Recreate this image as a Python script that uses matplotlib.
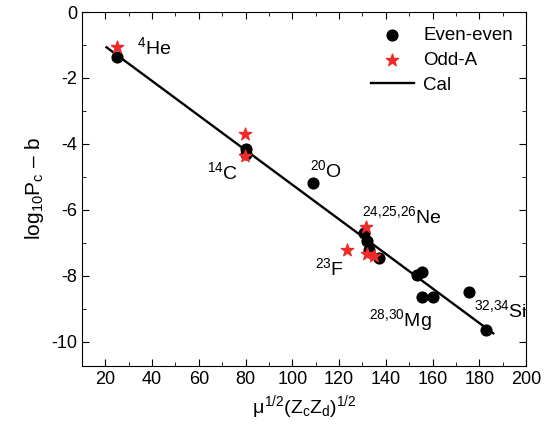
import matplotlib.pyplot as plt
from matplotlib.ticker import MultipleLocator

plt.rcParams['font.family'] = ['Liberation Sans', 'DejaVu Sans']
plt.rcParams['mathtext.fontset'] = 'custom'
plt.rcParams['mathtext.rm'] = 'Liberation Sans'
plt.rcParams['mathtext.it'] = 'Liberation Sans'
plt.rcParams['axes.unicode_minus'] = False

# even-even nuclei
ee_x = [24.8, 80.0, 80.2, 108.8, 130.7, 132.0, 132.8, 137.1, 153.4, 155.7, 155.5, 160.2, 175.6, 183.0]
ee_y = [-1.37, -4.16, -4.30, -5.18, -6.71, -6.94, -7.21, -7.46, -7.97, -7.89, -8.65, -8.65, -8.49, -9.64]

# odd-A nuclei
oa_x = [24.8, 79.7, 79.7, 123.2, 131.4, 132.0, 135.0]
oa_y = [-1.07, -3.71, -4.36, -7.21, -6.53, -7.33, -7.41]

# calculated line
cal_x = [20.5, 186.0]
cal_y = [-1.07, -9.74]

labels = [r'$^{4}$He', r'$^{14}$C', r'$^{20}$O', r'$^{24{,}25{,}26}$Ne', r'$^{23}$F',
          r'$^{28{,}30}$Mg', r'$^{32{,}34}$Si']
label_x = [33.5, 63.4, 107.5, 129.7, 109.6, 133.0, 177.6]
label_y = [-1.06, -4.85, -4.8, -6.2, -7.76, -9.33, -9.03]

fig = plt.figure(figsize=(5.56, 4.45), dpi=100)
ax = fig.add_axes([0.1475, 0.1775, 0.7985, 0.7955])

ax.plot(cal_x, cal_y, color='black', lw=1.7, label='Cal', zorder=1)
ax.scatter(ee_x, ee_y, s=60, color='black', marker='o', label='Even-even', zorder=2)
ax.scatter(oa_x, oa_y, s=85, color='#ee2a2a', marker='*', label='Odd-A', zorder=3)

for t, x, y in zip(labels, label_x, label_y):
    ax.text(x, y, t, fontsize=14, va='center', ha='left')

ax.set_xlim(10, 200)
ax.set_ylim(-10.73, 0)
ax.xaxis.set_major_locator(MultipleLocator(20))
ax.xaxis.set_minor_locator(MultipleLocator(10))
ax.yaxis.set_major_locator(MultipleLocator(2))
ax.yaxis.set_minor_locator(MultipleLocator(1))
ax.tick_params(which='both', direction='in', top=True, right=True, labelsize=13)
ax.tick_params(which='major', length=5)
ax.tick_params(which='minor', length=3)

ax.set_xlabel(r'$\mu^{1/2}$(Z$_c$Z$_d$)$^{1/2}$', fontsize=14)
ax.set_ylabel('log$_{10}$P$_c$ \u2013 b', fontsize=15)

h, l = ax.get_legend_handles_labels()
order = [1, 2, 0]
ax.legend([h[i] for i in order], [l[i] for i in order], loc='upper right', frameon=False,
          fontsize=13.5, handlelength=2.3, handletextpad=0.5,
          borderaxespad=0.3, labelspacing=0.42, bbox_to_anchor=(1.0, 0.995))

fig.savefig('out.png', dpi=100)
